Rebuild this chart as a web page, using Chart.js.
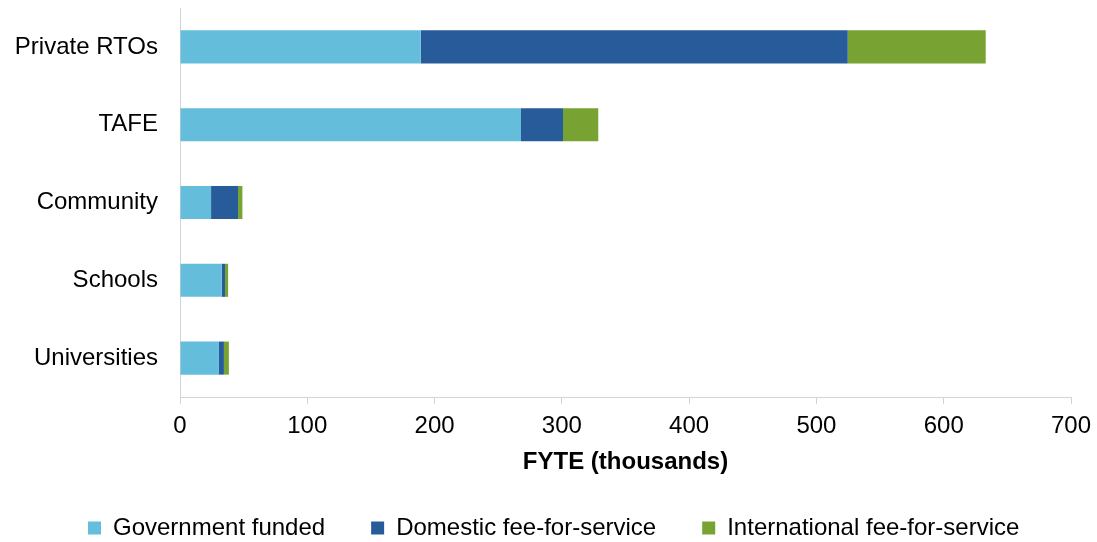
<!DOCTYPE html>
<html>
<head>
<meta charset="utf-8">
<script src="https://cdn.jsdelivr.net/npm/chart.js@4"></script>
<style>
  html, body { margin: 0; padding: 0; background: #fff; }
  #wrap { width: 1097px; height: 542px; position: relative; }
</style>
</head>
<body>
<div id="wrap"><canvas id="fyteChart"></canvas></div>
<script>
const providers = ['Private RTOs', 'TAFE', 'Community', 'Schools', 'Universities'];
const governmentFunded = [189.1, 267.9, 24.4, 32.8, 30.6];
const domesticFee = [335.5, 33.0, 21.2, 2.6, 3.9];
const internationalFee = [108.4, 27.7, 3.4, 2.4, 3.9];
const xTicks = [0, 100, 200, 300, 400, 500, 600, 700];

const fontFamily = "'Liberation Sans', Arial, sans-serif";
Chart.defaults.font.family = fontFamily;
Chart.defaults.color = '#000';

const bar = (label, data, colour) => ({
  label: label,
  data: data,
  backgroundColor: colour,
  borderWidth: 0,
  categoryPercentage: 1,
  barPercentage: 0.425
});

// legend starts a bit in from the left edge, like the original
const legendShift = {
  id: 'legendShift',
  afterLayout(chart) {
    if (chart.legend) chart.legend.left = 42;
  }
};

new Chart(document.getElementById('fyteChart').getContext('2d'), {
  type: 'bar',
  data: {
    labels: providers,
    datasets: [
      bar('Government funded', governmentFunded, '#64BEDB'),
      bar('Domestic fee-for-service', domesticFee, '#275B9A'),
      bar('International fee-for-service', internationalFee, '#78A232')
    ]
  },
  plugins: [legendShift],
  options: {
    indexAxis: 'y',
    responsive: true,
    maintainAspectRatio: false,
    animation: false,
    layout: { padding: { top: 8, right: 26, bottom: -8, left: 0 } },
    scales: {
      x: {
        stacked: true,
        min: xTicks[0],
        max: xTicks[xTicks.length - 1],
        afterBuildTicks: (s) => { s.ticks = xTicks.map(v => ({ value: v })); },
        afterFit: (s) => { s.height = 73; s.paddingLeft = 0; s.paddingRight = 0; },
        grid: { drawOnChartArea: false, drawTicks: true, tickLength: 7, color: '#d4d4d4' },
        border: { display: true, color: '#d4d4d4', width: 1 },
        ticks: { font: { size: 24 }, padding: 8, color: '#000' },
        title: {
          display: true,
          text: 'FYTE (thousands)',
          font: { size: 24, weight: 'bold', lineHeight: 1 },
          color: '#000',
          padding: { top: 0, bottom: -4 }
        }
      },
      y: {
        stacked: true,
        afterFit: (s) => { s.width = 180; s.paddingTop = 0; s.paddingBottom = 0; },
        grid: { display: false, drawTicks: false },
        border: { display: true, color: '#d4d4d4', width: 1 },
        ticks: { font: { size: 24 }, padding: 22, color: '#000' }
      }
    },
    plugins: {
      legend: {
        position: 'bottom',
        align: 'start',
        labels: {
          boxWidth: 13,
          boxHeight: 13,
          padding: 46,
          color: '#000',
          font: { size: 24 }
        }
      },
      tooltip: { enabled: false }
    }
  }
});
</script>
</body>
</html>
